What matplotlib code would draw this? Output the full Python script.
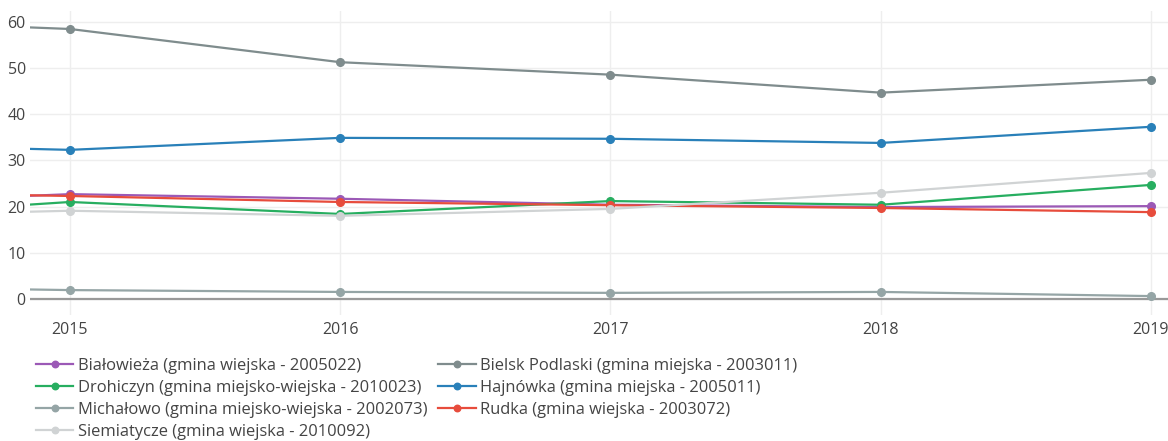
#!/usr/bin/env python3
"""Line chart: values per gmina, 2014-2019 (view clipped to 2015-2019)."""
import matplotlib
matplotlib.use("Agg")
import matplotlib.pyplot as plt

years = [2014, 2015, 2016, 2017, 2018, 2019]

bialowieza = [20.3, 22.7, 21.7, 20.4, 19.9, 20.1]
bielsk = [60.8, 58.5, 51.3, 48.6, 44.7, 47.5]
drohiczyn = [17.2, 21.0, 18.4, 21.2, 20.4, 24.7]
hajnowka = [33.7, 32.3, 34.9, 34.7, 33.8, 37.3]
michalowo = [2.8, 1.9, 1.5, 1.3, 1.5, 0.6]
rudka = [23.3, 22.3, 21.0, 20.3, 19.7, 18.8]
siemiatycze = [17.7, 19.1, 18.0, 19.5, 23.0, 27.3]

labels = [
    "Białowieża (gmina wiejska - 2005022)",
    "Bielsk Podlaski (gmina miejska - 2003011)",
    "Drohiczyn (gmina miejsko-wiejska - 2010023)",
    "Hajnówka (gmina miejska - 2005011)",
    "Michałowo (gmina miejsko-wiejska - 2002073)",
    "Rudka (gmina wiejska - 2003072)",
    "Siemiatycze (gmina wiejska - 2010092)",
]
series = [bialowieza, bielsk, drohiczyn, hajnowka, michalowo, rudka, siemiatycze]
colors = ["#9b59b6", "#7f8c8d", "#27ae60", "#2980b9", "#95a5a6", "#e74c3c", "#d0d3d4"]

plt.rcParams["font.family"] = ["Open Sans", "DejaVu Sans"]

fig = plt.figure(figsize=(11.68, 4.41), dpi=100)
ax = fig.add_axes([30 / 1168, 1 - 315 / 441, 1 - 30 / 1168, (315 - 11) / 441])

handles = {}
for lab, vals, col in zip(labels, series, colors):
    h, = ax.plot(years, vals, color=col, lw=1.6, marker="o", ms=5.5,
                 label=lab, zorder=3)
    handles[lab] = h

ax.axhline(0, color="#999999", lw=1.6, zorder=2)
ax.set_xlim(2014.852, 2019.0 + 17 / 270)
ax.set_ylim(-3.5, 62.4)
ax.set_xticks([2015, 2016, 2017, 2018, 2019])
ax.set_yticks([0, 10, 20, 30, 40, 50, 60])
ax.grid(True, color="#eeeeee", lw=1.0, zorder=0)
for s in ax.spines.values():
    s.set_visible(False)
ax.tick_params(length=0, labelsize=11.5, labelcolor="#444444")
ax.tick_params(axis="y", pad=3)
ax.tick_params(axis="x", pad=5)

# plotly fills the legend row by row; matplotlib fills columns
order = [0, 2, 4, 6, 1, 3, 5]
leg = fig.legend([handles[labels[i]] for i in order], [labels[i] for i in order],
                 ncol=2, loc="upper left", bbox_to_anchor=(36 / 1168, 1 - 358 / 441),
                 frameon=False, fontsize=11.85, handlelength=2.25, handletextpad=0.3,
                 columnspacing=0.67, labelspacing=0.365, borderaxespad=0,
                 borderpad=0, markerscale=0.85)
for t in leg.get_texts():
    t.set_color("#444444")

fig.savefig("out.png", dpi=100)
